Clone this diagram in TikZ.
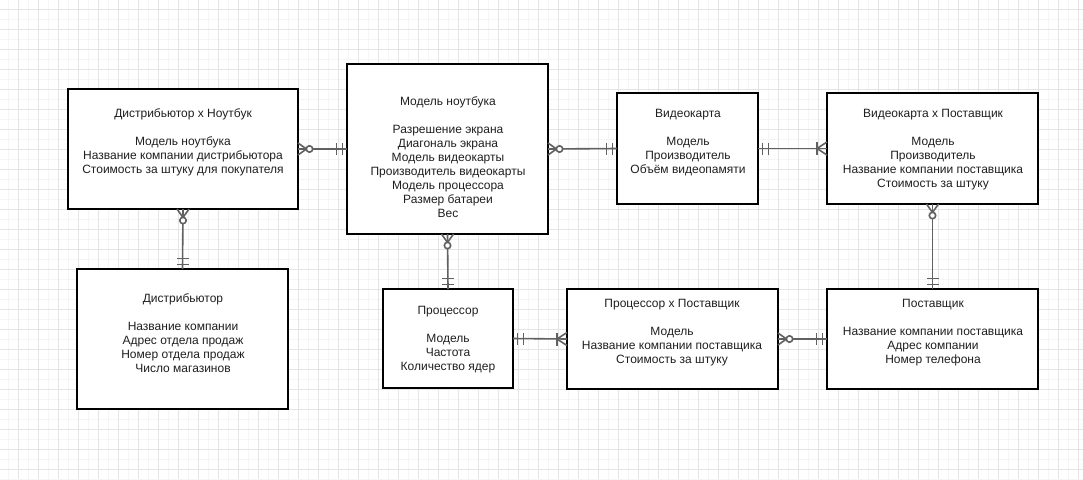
\documentclass[tikz,border=0pt]{standalone}
\usepackage{fontspec}
\setmainfont{Liberation Sans}
\begin{document}
\begin{tikzpicture}[x=1pt,y=-1pt,
  entity/.style={draw=black,line width=2.4pt,fill=white,inner sep=0pt,outer sep=0pt},
  txt/.style={align=center,inner sep=0pt,text=black!88,font=\fontsize{12}{14}\selectfont},
  conn/.style={draw=black!62,line width=1.6pt},
  gridmajor/.style={draw=black!10,line width=0.8pt},
  gridminor/.style={draw=black!4,line width=0.6pt},
  crowzero/.pic={\draw[conn] (0,6)--(8.5,0)--(0,-6); \draw[conn,fill=white] (11.5,0) circle[radius=3.2pt];},
  barbar/.pic={\draw[conn] (4.5,6)--(4.5,-6) (10.5,6)--(10.5,-6);},
  crowone/.pic={\draw[conn] (0,6.5)--(10,0)--(0,-6.5); \draw[conn] (10,6.5)--(10,-6.5);}
]
\useasboundingbox (0,0) rectangle (1083,479);
\fill[white] (0,0) rectangle (1083,479);
% grid
\foreach \i in {0,...,54} {\draw[gridminor] (8.5+20*\i,0) -- (8.5+20*\i,479);}
\foreach \i in {0,...,24} {\draw[gridminor] (0,-0.5+20*\i) -- (1083,-0.5+20*\i);}
\foreach \i in {0,...,53} {\draw[gridmajor] (18.5+20*\i,0) -- (18.5+20*\i,479);}
\foreach \i in {0,...,23} {\draw[gridmajor] (0,9.5+20*\i) -- (1083,9.5+20*\i);}

% entities
\node[entity,minimum width=230pt,minimum height=120pt] (b1) at (183,149) {};
\node[entity,minimum width=201pt,minimum height=170pt] (b2) at (447.5,149) {};
\node[entity,minimum width=141pt,minimum height=111pt] (b3) at (687.5,148.5) {};
\node[entity,minimum width=211pt,minimum height=111pt] (b4) at (932.5,148.5) {};
\node[entity,minimum width=211pt,minimum height=140pt] (b5) at (182.5,339) {};
\node[entity,minimum width=130pt,minimum height=99pt] (b6) at (448,338.5) {};
\node[entity,minimum width=211pt,minimum height=100pt] (b7) at (672.5,339) {};
\node[entity,minimum width=211pt,minimum height=100pt] (b8) at (932.5,339) {};

% texts
\node[txt] (t1) at (183,142.5) {Дистрибьютор х Ноутбук\\[14pt]Модель ноутбука\\Название компании дистрибьютора\\Стоимость за штуку для покупателя};
\node[txt] (t2) at (448,157) {Модель ноутбука\\[14pt]Разрешение экрана\\Диагональ экрана\\Модель видеокарты\\Производитель видеокарты\\Модель процессора\\Размер батареи\\Вес};
\node[txt] (t3) at (688,143) {Видеокарта\\[14pt]Модель\\Производитель\\Объём видеопамяти};
\node[txt] (t4) at (933,150) {Видеокарта х Поставщик\\[14pt]Модель\\Производитель\\Название компании поставщика\\Стоимость за штуку};
\node[txt] (t5) at (183,333) {Дистрибьютор\\[14pt]Название компании\\Адрес отдела продаж\\Номер отдела продаж\\Число магазинов};
\node[txt] (t6) at (448,340) {Процессор\\[14pt]Модель\\Частота\\Количество ядер};
\node[txt] (t7) at (672,333) {Процессор х Поставщик\\[14pt]Модель\\Название компании поставщика\\Стоимость за штуку};
\node[txt] (t8) at (933,333) {Поставщик\\[14pt]Название компании поставщика\\Адрес компании\\Номер телефона};

% connectors
\draw[conn] (b1.east) -- (b2.west);
\draw[conn] (b2.east) -- (b3.west);
\draw[conn] (b3.east) -- (b4.west);
\draw[conn] (b1.south) -- (b5.north);
\draw[conn] (b2.south) -- (b6.north);
\draw[conn] (b4.south) -- (b8.north);
\draw[conn] (b6.east) -- (b7.west);
\draw[conn] (b7.east) -- (b8.west);

% cardinality markers
\pic at (b1.east) {crowzero};
\pic[rotate=180] at (b2.west) {barbar};
\pic at (b2.east) {crowzero};
\pic[rotate=180] at (b3.west) {barbar};
\pic at (b3.east) {barbar};
\pic[rotate=180] at (b4.west) {crowone};
\pic[rotate=-90] at (b1.south) {crowzero};
\pic[rotate=90] at (b5.north) {barbar};
\pic[rotate=-90] at (b2.south) {crowzero};
\pic[rotate=90] at (b6.north) {barbar};
\pic[rotate=-90] at (b4.south) {crowzero};
\pic[rotate=90] at (b8.north) {barbar};
\pic at (b6.east) {barbar};
\pic[rotate=180] at (b7.west) {crowone};
\pic at (b7.east) {crowzero};
\pic[rotate=180] at (b8.west) {barbar};
\end{tikzpicture}
\end{document}
